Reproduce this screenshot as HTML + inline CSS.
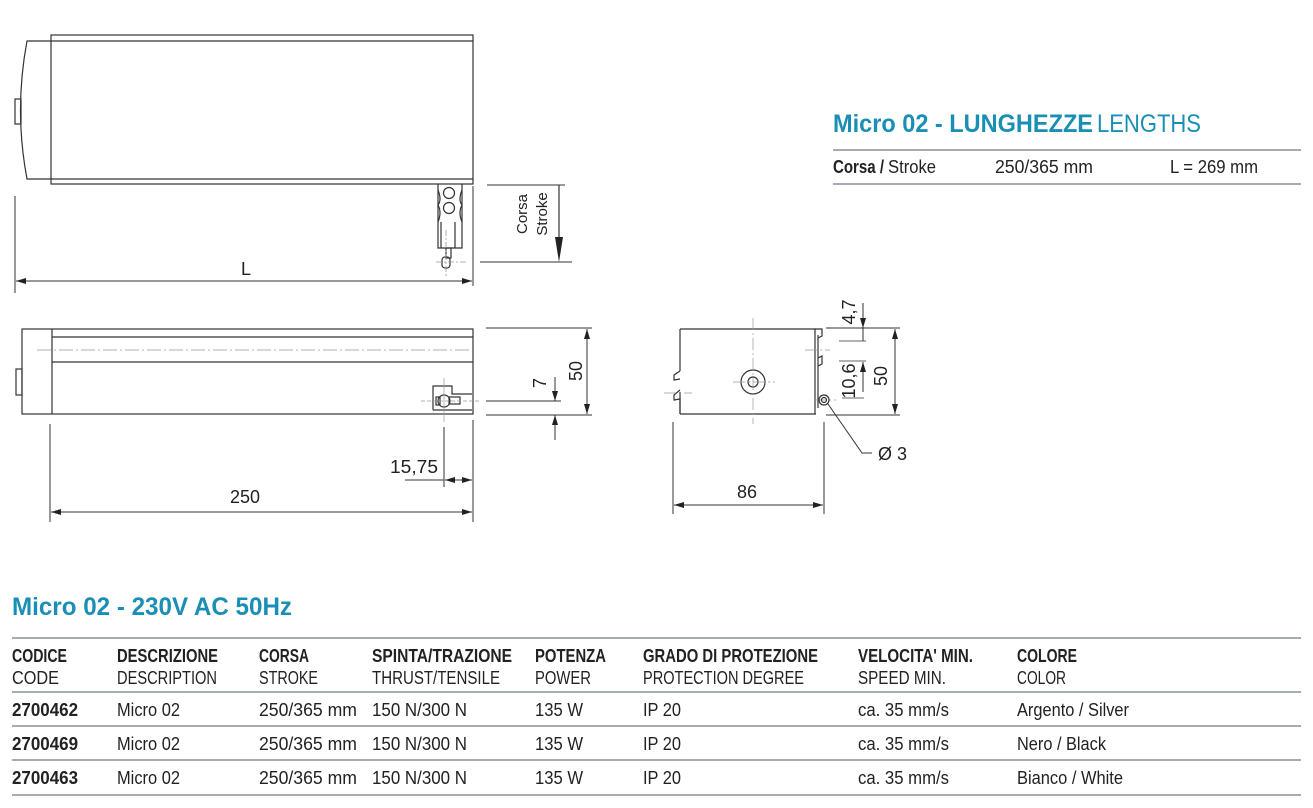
<!DOCTYPE html>
<html><head><meta charset="utf-8"><style>
html,body{margin:0;padding:0;background:#fff;}
svg{display:block;}
text{font-family:"Liberation Sans",sans-serif;fill:#222;}
.t{fill:#1a8fb5;font-weight:bold;}
.b{font-weight:bold;}
</style></head><body>
<svg width="1313" height="808" viewBox="0 0 1313 808" xmlns="http://www.w3.org/2000/svg">
<defs>
<marker id="a" viewBox="0 0 10 6" refX="10" refY="3" markerWidth="10" markerHeight="6" orient="auto-start-reverse" markerUnits="userSpaceOnUse"><path d="M0,0 L10,3 L0,6 z" fill="#222"/></marker>
</defs>
<g stroke="#333" stroke-width="1.2" fill="none">
<!-- TOP VIEW -->
<rect x="51" y="35" width="422" height="149"/>
<line x1="51" y1="41" x2="473" y2="41"/>
<line x1="51" y1="179" x2="473" y2="179"/>
<path d="M51,41 L27,41 Q14,110 27,179 L51,179"/>
<rect x="15" y="99" width="6" height="25"/>
<path d="M438,184 L438,248 L462,248 L462,184"/>
<path d="M438,190 Q442,200 438,205 Q442,212 438,222 M462,190 Q458,200 462,205 Q458,212 462,222"/>
<circle cx="449" cy="193" r="5.5"/>
<circle cx="449" cy="208" r="5.5"/>
<line x1="441" y1="222" x2="441" y2="248"/><line x1="455" y1="222" x2="455" y2="248"/>
<rect x="446" y="248" width="5" height="10"/>
<rect x="442" y="257" width="8" height="11" rx="3"/>
<g stroke="#999" stroke-width="0.8"><line x1="436" y1="262" x2="466" y2="262" stroke-dasharray="6,2,2,2"/><line x1="446" y1="230" x2="446" y2="277" stroke-dasharray="6,2,2,2"/></g>
<line x1="15" y1="196" x2="15" y2="293" stroke-width="1"/>
<line x1="473" y1="186" x2="473" y2="286" stroke-width="1"/>
<line x1="16" y1="281" x2="472" y2="281" stroke-width="1" marker-start="url(#a)" marker-end="url(#a)"/>
<line x1="487" y1="185" x2="565" y2="185" stroke-width="1"/>
<line x1="480" y1="262" x2="572" y2="262" stroke-width="1"/>
<line x1="559" y1="185" x2="559" y2="238" stroke-width="1.2"/>
<path d="M555,237 L563,237 L559,262 z" fill="#222" stroke="none"/>
<!-- SIDE VIEW -->
<rect x="22" y="329" width="451" height="85"/>
<line x1="52" y1="329" x2="52" y2="414"/>
<line x1="52" y1="337" x2="473" y2="337"/>
<line x1="52" y1="362" x2="473" y2="362"/>
<line x1="37" y1="350" x2="470" y2="350" stroke="#999" stroke-width="0.8" stroke-dasharray="14,3,2,3"/>
<rect x="16" y="369" width="6" height="26"/>
<path d="M433,410 L433,386 L452,386 L452,394 L472,394"/>
<path d="M433,410 L472,410"/>
<rect x="436" y="397" width="4" height="8"/>
<rect x="449" y="397" width="11" height="7"/>
<circle cx="444" cy="401" r="6"/>
<g stroke="#999" stroke-width="0.7"><line x1="444" y1="378" x2="444" y2="422"/><line x1="421" y1="401" x2="480" y2="401" stroke-dasharray="4,2"/></g>
<line x1="486" y1="328" x2="592" y2="328" stroke-width="1"/>
<line x1="486" y1="415" x2="592" y2="415" stroke-width="1"/>
<line x1="587" y1="329" x2="587" y2="414" stroke-width="1" marker-start="url(#a)" marker-end="url(#a)"/>
<line x1="486" y1="401" x2="561" y2="401" stroke-width="1"/>
<line x1="555" y1="377" x2="555" y2="401" stroke-width="1" marker-end="url(#a)"/>
<line x1="555" y1="440" x2="555" y2="415" stroke-width="1" marker-end="url(#a)"/>
<line x1="50" y1="424" x2="50" y2="522" stroke-width="1"/>
<line x1="473" y1="420" x2="473" y2="522" stroke-width="1"/>
<line x1="51" y1="512" x2="472" y2="512" stroke-width="1" marker-start="url(#a)" marker-end="url(#a)"/>
<line x1="444" y1="427" x2="444" y2="487" stroke-width="1"/>
<line x1="405" y1="480" x2="444" y2="480" stroke-width="1"/>
<line x1="445" y1="480" x2="472" y2="480" stroke-width="1" marker-start="url(#a)" marker-end="url(#a)"/>
<!-- END VIEW -->
<path d="M680,329 L816,329 M680,414 L816,414 M680,329 L680,371 M680,392 L680,414"/>
<path d="M680,371 L674,375 L674,380 L680,379 M680,390 L674,395 L674,400 L680,399 L680,414"/>
<line x1="815" y1="329" x2="815" y2="414"/><line x1="818" y1="335" x2="818" y2="408"/>
<path d="M815,329 L822,329 L822,336 L818,338 M818,358 L822,356 L822,364 L818,366"/>
<circle cx="753" cy="382" r="12"/><circle cx="753" cy="382" r="5"/>
<g stroke="#999" stroke-width="0.7" stroke-dasharray="12,3,2,3"><line x1="753" y1="318" x2="753" y2="424"/><line x1="733" y1="382" x2="775" y2="382"/><line x1="664" y1="393" x2="692" y2="393"/><line x1="805" y1="350" x2="830" y2="350"/><line x1="814" y1="400" x2="836" y2="400"/></g>
<circle cx="824" cy="400" r="5"/><circle cx="824" cy="400" r="2.5"/>
<path d="M828,404 L862,453 L872,453" stroke-width="1"/>
<line x1="826" y1="328" x2="900" y2="328" stroke-width="1"/>
<line x1="826" y1="415" x2="900" y2="415" stroke-width="1"/>
<line x1="895" y1="329" x2="895" y2="414" stroke-width="1" marker-start="url(#a)" marker-end="url(#a)"/>
<line x1="839" y1="341" x2="866" y2="341" stroke-width="0.8"/>
<line x1="839" y1="361" x2="866" y2="361" stroke-width="0.8"/>
<line x1="842" y1="398" x2="864" y2="398" stroke-width="0.8"/>
<line x1="863" y1="303" x2="863" y2="328" stroke-width="1" marker-end="url(#a)"/>
<line x1="863" y1="328" x2="863" y2="341" stroke-width="1"/>
<line x1="863" y1="392" x2="863" y2="362" stroke-width="1" marker-end="url(#a)"/>
<line x1="673" y1="422" x2="673" y2="514" stroke-width="1"/>
<line x1="824" y1="422" x2="824" y2="514" stroke-width="1"/>
<line x1="674" y1="505" x2="823" y2="505" stroke-width="1" marker-start="url(#a)" marker-end="url(#a)"/>
<!-- TABLE LINES -->
<g stroke="#8a9099" stroke-width="1.5">
<line x1="833" y1="150" x2="1301" y2="150"/><line x1="833" y1="184" x2="1301" y2="184"/>
<line x1="12" y1="638" x2="1301" y2="638"/><line x1="12" y1="692" x2="1301" y2="692"/>
<line x1="12" y1="726" x2="1301" y2="726"/><line x1="12" y1="760" x2="1301" y2="760"/>
<line x1="12" y1="795" x2="1301" y2="795"/></g>
</g>
<!-- DRAWING TEXT -->
<g font-size="18">
<text x="246" y="275" text-anchor="middle">L</text>
<text transform="translate(527,214) rotate(-90)" text-anchor="middle" font-size="15">Corsa</text>
<text transform="translate(547,214) rotate(-90)" text-anchor="middle" font-size="15">Stroke</text>
<text transform="translate(582,371) rotate(-90)" text-anchor="middle">50</text>
<text transform="translate(546,383) rotate(-90)" text-anchor="middle">7</text>
<text x="245" y="503" text-anchor="middle">250</text>
<text x="390" y="473" textLength="48" lengthAdjust="spacingAndGlyphs">15,75</text>
<text transform="translate(887,376) rotate(-90)" text-anchor="middle">50</text>
<text transform="translate(855,312) rotate(-90)" text-anchor="middle">4,7</text>
<text transform="translate(855,381) rotate(-90)" text-anchor="middle">10,6</text>
<text x="878" y="460">Ø 3</text>
<text x="747" y="498" text-anchor="middle">86</text>
</g>
<!-- LENGTHS -->
<text class="t" x="833" y="132" font-size="25" textLength="260" lengthAdjust="spacingAndGlyphs">Micro 02 - LUNGHEZZE</text>
<text x="1097" y="132" font-size="25" style="fill:#1a8fb5" textLength="104" lengthAdjust="spacingAndGlyphs">LENGTHS</text>
<g font-size="18">
<text class="b" x="833" y="173" textLength="51" lengthAdjust="spacingAndGlyphs">Corsa /</text>
<text x="888" y="173" textLength="48" lengthAdjust="spacingAndGlyphs">Stroke</text>
<text x="995" y="173" textLength="98" lengthAdjust="spacingAndGlyphs">250/365 mm</text>
<text x="1170" y="173" textLength="88" lengthAdjust="spacingAndGlyphs">L = 269 mm</text>
</g>
<!-- MAIN TABLE -->
<text class="t" x="12" y="615" font-size="25" textLength="280" lengthAdjust="spacingAndGlyphs">Micro 02 - 230V AC 50Hz</text>
<g font-size="18">
<text class="b" x="12" y="662" textLength="55" lengthAdjust="spacingAndGlyphs">CODICE</text>
<text class="b" x="117" y="662" textLength="101" lengthAdjust="spacingAndGlyphs">DESCRIZIONE</text>
<text class="b" x="259" y="662" textLength="50" lengthAdjust="spacingAndGlyphs">CORSA</text>
<text class="b" x="372" y="662" textLength="140" lengthAdjust="spacingAndGlyphs">SPINTA/TRAZIONE</text>
<text class="b" x="535" y="662" textLength="71" lengthAdjust="spacingAndGlyphs">POTENZA</text>
<text class="b" x="643" y="662" textLength="175" lengthAdjust="spacingAndGlyphs">GRADO DI PROTEZIONE</text>
<text class="b" x="858" y="662" textLength="115" lengthAdjust="spacingAndGlyphs">VELOCITA' MIN.</text>
<text class="b" x="1017" y="662" textLength="60" lengthAdjust="spacingAndGlyphs">COLORE</text>
<text x="12" y="684" textLength="47" lengthAdjust="spacingAndGlyphs">CODE</text>
<text x="117" y="684" textLength="100" lengthAdjust="spacingAndGlyphs">DESCRIPTION</text>
<text x="259" y="684" textLength="59" lengthAdjust="spacingAndGlyphs">STROKE</text>
<text x="372" y="684" textLength="128" lengthAdjust="spacingAndGlyphs">THRUST/TENSILE</text>
<text x="535" y="684" textLength="56" lengthAdjust="spacingAndGlyphs">POWER</text>
<text x="643" y="684" textLength="161" lengthAdjust="spacingAndGlyphs">PROTECTION DEGREE</text>
<text x="858" y="684" textLength="88" lengthAdjust="spacingAndGlyphs">SPEED MIN.</text>
<text x="1017" y="684" textLength="49" lengthAdjust="spacingAndGlyphs">COLOR</text>
<text class="b" x="12" y="716" textLength="66" lengthAdjust="spacingAndGlyphs">2700462</text>
<text class="b" x="12" y="750" textLength="66" lengthAdjust="spacingAndGlyphs">2700469</text>
<text class="b" x="12" y="784" textLength="66" lengthAdjust="spacingAndGlyphs">2700463</text>
<text x="117" y="716" textLength="63" lengthAdjust="spacingAndGlyphs">Micro 02</text>
<text x="117" y="750" textLength="63" lengthAdjust="spacingAndGlyphs">Micro 02</text>
<text x="117" y="784" textLength="63" lengthAdjust="spacingAndGlyphs">Micro 02</text>
<text x="259" y="716" textLength="98" lengthAdjust="spacingAndGlyphs">250/365 mm</text>
<text x="259" y="750" textLength="98" lengthAdjust="spacingAndGlyphs">250/365 mm</text>
<text x="259" y="784" textLength="98" lengthAdjust="spacingAndGlyphs">250/365 mm</text>
<text x="372" y="716" textLength="95" lengthAdjust="spacingAndGlyphs">150 N/300 N</text>
<text x="372" y="750" textLength="95" lengthAdjust="spacingAndGlyphs">150 N/300 N</text>
<text x="372" y="784" textLength="95" lengthAdjust="spacingAndGlyphs">150 N/300 N</text>
<text x="535" y="716" textLength="48" lengthAdjust="spacingAndGlyphs">135 W</text>
<text x="535" y="750" textLength="48" lengthAdjust="spacingAndGlyphs">135 W</text>
<text x="535" y="784" textLength="48" lengthAdjust="spacingAndGlyphs">135 W</text>
<text x="643" y="716" textLength="38" lengthAdjust="spacingAndGlyphs">IP 20</text>
<text x="643" y="750" textLength="38" lengthAdjust="spacingAndGlyphs">IP 20</text>
<text x="643" y="784" textLength="38" lengthAdjust="spacingAndGlyphs">IP 20</text>
<text x="858" y="716" textLength="91" lengthAdjust="spacingAndGlyphs">ca. 35 mm/s</text>
<text x="858" y="750" textLength="91" lengthAdjust="spacingAndGlyphs">ca. 35 mm/s</text>
<text x="858" y="784" textLength="91" lengthAdjust="spacingAndGlyphs">ca. 35 mm/s</text>
<text x="1017" y="716" textLength="112" lengthAdjust="spacingAndGlyphs">Argento / Silver</text>
<text x="1017" y="750" textLength="89" lengthAdjust="spacingAndGlyphs">Nero / Black</text>
<text x="1017" y="784" textLength="106" lengthAdjust="spacingAndGlyphs">Bianco / White</text>
</g>
</svg>
</body></html>
